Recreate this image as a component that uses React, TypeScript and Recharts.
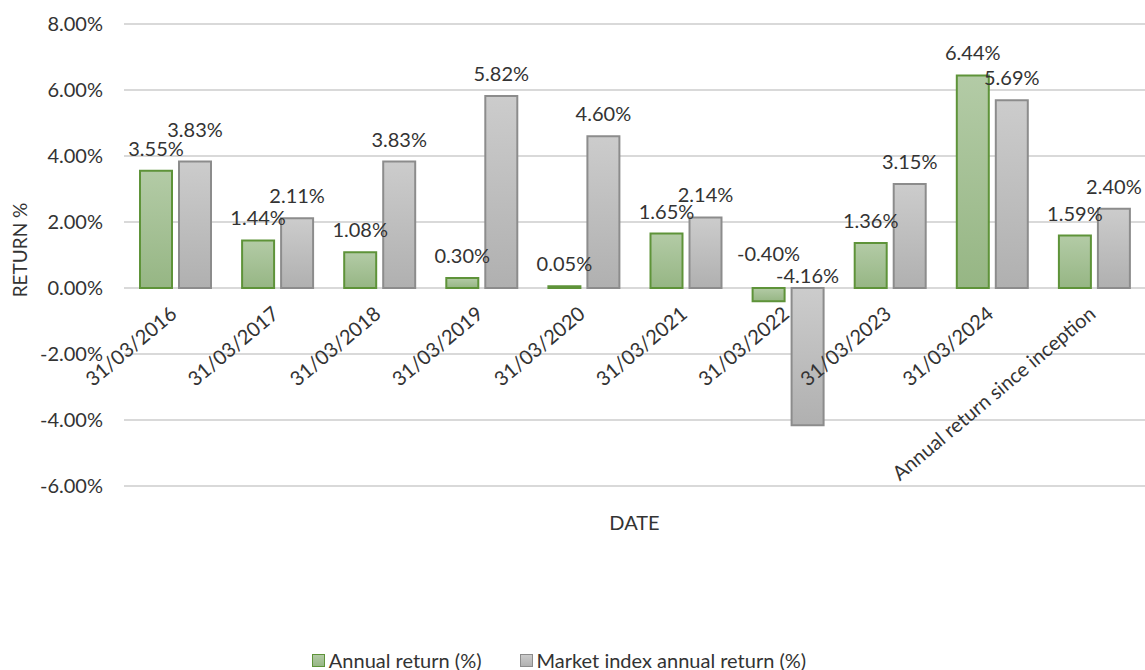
import React from 'react';
import { BarChart, Bar, XAxis, YAxis, CartesianGrid, Legend, LabelList } from 'recharts';

const categories = [
  '31/03/2016',
  '31/03/2017',
  '31/03/2018',
  '31/03/2019',
  '31/03/2020',
  '31/03/2021',
  '31/03/2022',
  '31/03/2023',
  '31/03/2024',
  'Annual return since inception',
];
const annualReturn = [3.55, 1.44, 1.08, 0.3, 0.05, 1.65, -0.4, 1.36, 6.44, 1.59];
const marketReturn = [3.83, 2.11, 3.83, 5.82, 4.6, 2.14, -4.16, 3.15, 5.69, 2.4];
const yTicks = [-6, -4, -2, 0, 2, 4, 6, 8];
const seriesNames = ['Annual return (%)', 'Market index annual return (%)'];
const xTitle = 'DATE';
const yTitle = 'RETURN %';

const data = categories.map((c, i) => ({ date: c, annual: annualReturn[i], market: marketReturn[i] }));

const FONT = 'Lato, "Open Sans", sans-serif';
const FS = 20;
const TEXT = '#333333';
const Y_MIN = -6;
const Y_MAX = 8;
const PLOT_TOP = 24;
const fmt = (v: number) => `${v.toFixed(2)}%`;

// label renderer; the second series lifts its label when it would collide with the first series' label
const makeLabel = (negOffset: number, avoidOther: boolean) => (props: any) => {
  const { x, y, width, height, value, index } = props;
  const top = Math.min(y, y + height);
  const cx = x + width / 2;
  let cy = value >= 0 ? top - 23 : top - negOffset;
  if (avoidOther && value >= 0) {
    const other = annualReturn[index];
    if (other >= 0 && value >= other && value - other < 0.35) cy -= 10;
  }
  return (
    <text x={cx} y={cy} textAnchor="middle" dominantBaseline="central" fontFamily={FONT} fontSize={FS} fill={TEXT}>
      {fmt(Number(value))}
    </text>
  );
};

const XTick = (props: any) => {
  const { x, y, payload } = props;
  const zeroY = y - (y - PLOT_TOP) * ((0 - Y_MIN) / (Y_MAX - Y_MIN));
  const ax = x + 3;
  const ay = zeroY + 28;
  return (
    <text
      x={ax}
      y={ay}
      textAnchor="end"
      transform={`rotate(-40 ${ax} ${ay})`}
      fontFamily={FONT}
      fontSize={FS}
      fill={TEXT}
    >
      {payload.value}
    </text>
  );
};

const renderLegend = () => (
  <div
    style={{
      display: 'flex',
      justifyContent: 'center',
      alignItems: 'center',
      gap: 38,
      height: 20,
      fontFamily: FONT,
      fontSize: FS,
      color: TEXT,
      paddingRight: 27,
    }}
  >
    {seriesNames.map((name, i) => (
      <div key={name} style={{ display: 'flex', alignItems: 'center', gap: 4 }}>
        <span
          style={{
            display: 'inline-block',
            boxSizing: 'border-box',
            width: 13,
            height: 13,
            background: i === 0 ? 'linear-gradient(#b2caa5, #97b785)' : 'linear-gradient(#cbcbcb, #b1b1b1)',
            border: `1.5px solid ${i === 0 ? '#5e9339' : '#8c8c8c'}`,
          }}
        />
        <span>{name}</span>
      </div>
    ))}
  </div>
);

export default function App() {
  return (
    <div style={{ position: 'absolute', left: 0, top: 0, width: 1145, height: 670, background: '#fff' }}>
      <BarChart
        width={1145}
        height={670}
        data={data}
        margin={{ top: PLOT_TOP, right: 0, bottom: 0, left: 0 }}
        barSize={32}
        barGap={7}
      >
        <defs>
          <linearGradient id="gGreen" x1="0" y1="0" x2="0" y2="1">
            <stop offset="0%" stopColor="#b3cba6" />
            <stop offset="100%" stopColor="#96b684" />
          </linearGradient>
          <linearGradient id="gGray" x1="0" y1="0" x2="0" y2="1">
            <stop offset="0%" stopColor="#cccccc" />
            <stop offset="100%" stopColor="#b0b0b0" />
          </linearGradient>
        </defs>
        <CartesianGrid vertical={false} stroke="#d9d9d9" strokeWidth={2} />
        <XAxis
          dataKey="date"
          interval={0}
          height={164}
          axisLine={false}
          tickLine={false}
          tickSize={0}
          tickMargin={0}
          tick={<XTick />}
          label={(p: any) => {
            const vb = p.viewBox || {};
            return (
              <text
                x={vb.x + vb.width / 2}
                y={vb.y + 36}
                textAnchor="middle"
                dominantBaseline="central"
                fontFamily={FONT}
                fontSize={FS}
                fill={TEXT}
              >
                {xTitle}
              </text>
            );
          }}
        />
        <YAxis
          width={124}
          domain={[Y_MIN, Y_MAX]}
          ticks={yTicks}
          allowDataOverflow
          axisLine={false}
          tickLine={false}
          tickSize={0}
          tickMargin={21}
          tickFormatter={fmt}
          tick={{ fontFamily: FONT, fontSize: FS, fill: TEXT }}
          label={(p: any) => {
            const vb = p.viewBox || {};
            const cx = 19;
            const cy = vb.y + vb.height / 2 - 5;
            return (
              <text
                x={cx}
                y={cy}
                textAnchor="middle"
                dominantBaseline="central"
                transform={`rotate(-90 ${cx} ${cy})`}
                fontFamily={FONT}
                fontSize={FS - 1}
                fill={TEXT}
              >
                {yTitle}
              </text>
            );
          }}
        />
        <Legend verticalAlign="bottom" content={renderLegend} />
        <Bar dataKey="annual" name={seriesNames[0]} fill="url(#gGreen)" stroke="#5e9339" strokeWidth={2} isAnimationActive={false}>
          <LabelList dataKey="annual" content={makeLabel(35, false)} />
        </Bar>
        <Bar dataKey="market" name={seriesNames[1]} fill="url(#gGray)" stroke="#8c8c8c" strokeWidth={2} isAnimationActive={false}>
          <LabelList dataKey="market" content={makeLabel(13, true)} />
        </Bar>
      </BarChart>
    </div>
  );
}
